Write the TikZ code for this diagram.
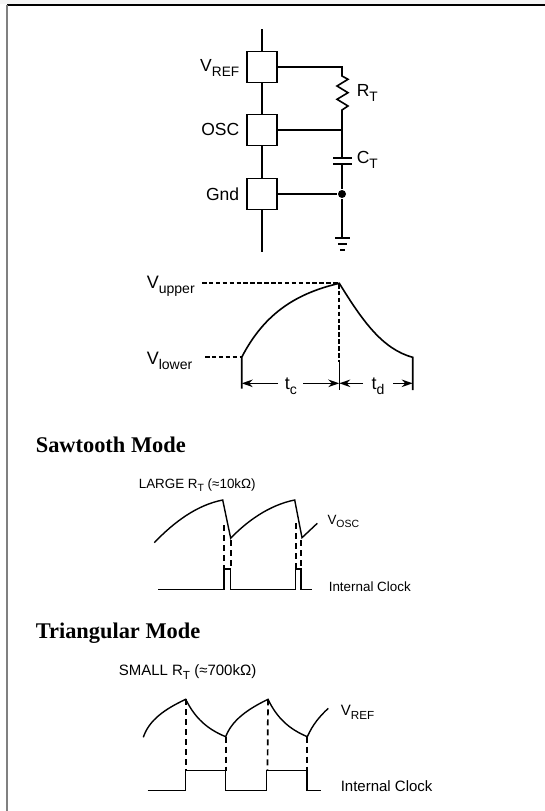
\documentclass[tikz,border=0pt]{standalone}
\usepackage{fontspec}
\setmainfont{Liberation Sans}
\newfontfamily\headfont{Liberation Serif}
\usetikzlibrary{arrows.meta, positioning}
\tikzset{
    %Define standard arrow tip
    >={Stealth[length=11pt, width=7.5pt]},
}
\newcommand{\lowsub}[1]{\raisebox{-0.28em}{\scalebox{0.78}{#1}}}
\newcommand{\fs}[1]{\fontsize{#1}{#1}\selectfont}

\begin{document}
\begin{tikzpicture}[x=1pt, y=-1pt, line width=1.6pt]
	\tikzset{
	  pinbox/.style={draw, fill=white, shape=rectangle, inner sep=0pt, outer sep=0pt,
	             minimum width=30pt, minimum height=31pt},
	  jdot/.style={circle, fill=black, inner sep=0pt, minimum size=8pt},
	  lbl/.style={inner sep=0pt, anchor=base west},
	  lblr/.style={inner sep=0pt, anchor=base east},
	  bigsize/.style={font=\fs{17.5}},
	  wavesize/.style={font=\fs{18}},
	  midsize/.style={font=\fs{15}},
	  smallsize/.style={font=\fs{13.4}},
	  headline/.style={inner sep=0pt, anchor=base west, font=\headfont\bfseries\fs{22.4}},
	  dashline/.style={line width=2pt, dash pattern=on 4.5pt off 2.4pt},
	  longdash/.style={line width=1.7pt, dash pattern=on 6pt off 4pt},
	  thinwave/.style={line width=1.4pt}
	}
	\useasboundingbox (0,0) rectangle (545,811);
	\fill[gray!8] (0,0) rectangle (545,4);
	\coordinate (frametl) at (7,5);
	\coordinate (frametr) at (545,5);
	\coordinate (framebl) at (7,811);
	\draw[line width=1.4pt] (frametl) -- (frametr);
	\draw[gray, line width=2pt] (frametl) -- (framebl);

	% the three pins
	\node [pinbox] (vref) at (262,67) {};
	\node [pinbox, below=32pt of vref] (osc) {};
	\node [pinbox, below=33pt of osc] (gnd) {};
	\coordinate (pintop) at (262,29);
	\coordinate (pinbot) at (262,252);
	\path[draw] (pintop) edge (vref)
	            (vref) edge (osc)
	            (osc) edge (gnd)
	            (gnd) edge (pinbot);
	\node [lblr, bigsize] (vreflabel) at (240,71.5) {V\lowsub{REF}};
	\node [lblr, bigsize] (osclabel) at (240,135) {OSC};
	\node [lblr, bigsize] (gndlabel) at (240,200) {Gnd};

	% timing network
	\coordinate (rtop) at (342,67);
	\coordinate (rosc) at (342,130);
	\coordinate (cap1) at (342,158);
	\coordinate (cap2) at (342,164);
	\node [jdot] (junction) at (342,194) {};
	\coordinate (earth) at (342,238);
	\draw (vref.east |- rtop) -- (rtop) -- (342,76) -- (348,79.3) -- (337,86) -- (348,92.7)
	      -- (337,99.3) -- (348,106) -- (342,110) -- (rosc) -- (cap1);
	\draw (osc.east |- rosc) -- (rosc);
	\draw (gnd) -- (junction);
	\draw (cap2) -- (junction) -- (earth);
	\draw (333,158) -- (352,158);
	\draw (333,164) -- (352,164);
	\draw (335,238) -- (350,238);
	\draw (338,244) -- (347,244);
	\draw (340,250) -- (345,250);
	\node [lbl, bigsize] (rlabel) at (356,96.5) {R\lowsub{T}};
	\node [lbl, bigsize] (clabel) at (356,163.5) {C\lowsub{T}};

	% one cycle
	\coordinate (upperend) at (202,283.3);
	\coordinate (lowerend) at (205,357.3);
	\coordinate (start) at (241.7,357.3);
	\coordinate (peak) at (339.3,283.3);
	\coordinate (finish) at (412.7,357.3);
	\coordinate (startbase) at (241.7,388.5);
	\coordinate (peakmid) at (339.3,362);
	\coordinate (peakbase) at (339.3,389.5);
	\coordinate (finishbase) at (412.7,390);
	\draw (startbase) -- (start) .. controls (265,312) and (298,293) .. (peak)
	      .. controls (362,320) and (382,349) .. (finish) -- (finishbase);
	\draw[dashline] (upperend) -- (peak) -- (peakmid);
	\draw[dashline] (lowerend) -- (start);
	\draw (peakmid) -- (peakbase);
	\node [lbl, wavesize] (upper) at (146,288.3) {V\lowsub{upper}};
	\node [lbl, wavesize] (lower) at (146,364.3) {V\lowsub{lower}};
	\node [lbl, wavesize] (tc) at (284,389) {t\lowsub{c}};
	\node [lbl, wavesize] (td) at (370.7,389) {t\lowsub{d}};
	\draw[->] (278,383.3) -- (241.7,383.3);
	\draw[->] (303,383.3) -- (339.3,383.3);
	\draw[->] (363,383.3) -- (339.3,383.3);
	\draw[->] (393,383.3) -- (412.7,383.3);

	% sawtooth
	\node [headline] (sawhead) at (35,452.7) {Sawtooth Mode};
	\node [lbl, smallsize] (sawrt) at (138,488) {LARGE R\lowsub{T} (≈10kΩ)};
	\coordinate (sa) at (154.3,542.7);
	\coordinate (sp1) at (222.7,500);
	\coordinate (sm1) at (230.7,538.3);
	\coordinate (sp2) at (294.7,500);
	\coordinate (sm2) at (302,537.7);
	\coordinate (sz) at (317.3,523.3);
	\draw[thinwave] (sa) .. controls (174,522) and (197,505) .. (sp1) -- (sm1)
	      .. controls (246,522) and (269,505) .. (sp2) -- (sm2) -- (sz);
	\draw[longdash] (224,525) -- (224,569);
	\draw[longdash] (231,540) -- (231,569);
	\draw[longdash] (295.7,523) -- (295.7,569);
	\draw[longdash] (301.3,540) -- (301.3,569);
	\draw[thinwave] (158,589.3) -- (224,589.3) -- (224,569) -- (230.7,569) -- (230.7,589.3)
	      -- (295.3,589.3) -- (295.3,569) -- (301,569) -- (301,589.3) -- (311.7,589.3);
	\node [lbl, smallsize] (sawv) at (326.7,524) {V\lowsub{OSC}};
	\node [lbl, smallsize] (sawclk) at (328,591.7) {Internal Clock};

	% triangular
	\node [headline] (trihead) at (35,638) {Triangular Mode};
	\node [lbl, midsize] (trirt) at (118,675.7) {SMALL R\lowsub{T} (≈700kΩ)};
	\coordinate (ta) at (143.3,737.3);
	\coordinate (tp1) at (185.7,699.3);
	\coordinate (tm1) at (225.7,736.7);
	\coordinate (tp2) at (268,699.3);
	\coordinate (tm2) at (307.3,736.7);
	\coordinate (tz) at (328.3,708.3);
	\draw[thinwave] (ta) .. controls (149,720) and (165,709) .. (tp1)
	      .. controls (195,718) and (207,729) .. (tm1)
	      .. controls (232,720) and (248,709) .. (tp2)
	      .. controls (277,718) and (289,729) .. (tm2)
	      .. controls (313,724) and (320,716) .. (tz);
	\draw[longdash] (tp1) -- (185.7,770.7);
	\draw[longdash] (tm1) -- (225.7,770.7);
	\draw[longdash] (tp2) -- (267.5,770.7);
	\draw[longdash] (tm2) -- (307.3,770.7);
	\draw[thinwave] (147.7,790.7) -- (185.7,790.7) -- (185.7,770.7) -- (225.7,770.7) -- (225.7,790.7)
	      -- (266.7,790.7) -- (266.7,770.7) -- (307,770.7) -- (307,790.7) -- (320.7,790.7);
	\node [lbl, midsize] (triv) at (340,715) {V\lowsub{REF}};
	\node [lbl, midsize] (triclk) at (340,791.7) {Internal Clock};
\end{tikzpicture}
\end{document}
